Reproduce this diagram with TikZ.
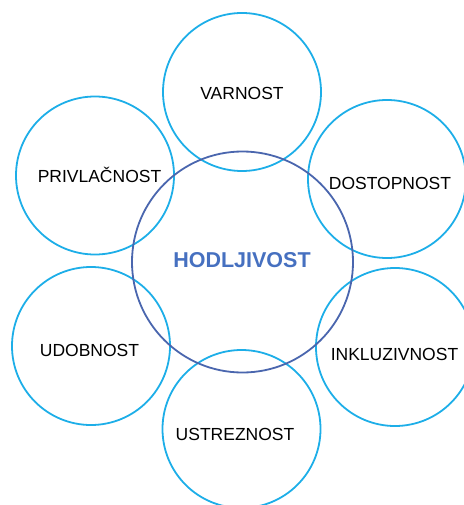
\documentclass[tikz,border=0pt]{standalone}
\usepackage{fontspec}
\setmainfont{Liberation Sans}
\definecolor{ringcyan}{HTML}{1DAEE8}
\definecolor{coreblue}{HTML}{4A66AE}
\definecolor{coretext}{HTML}{4670C0}
\begin{document}
\begin{tikzpicture}[x=1pt,y=-1pt,
  petal/.style={circle,draw=ringcyan,line width=1.8pt,minimum size=158pt,inner sep=0pt},
  core/.style={circle,draw=coreblue,line width=1.8pt,minimum size=221pt,inner sep=0pt},
  lbl/.style={font=\fontsize{17.5}{20}\selectfont,text=black},
  corelbl/.style={font=\fontsize{21.5}{24}\selectfont\bfseries,text=coretext}]
  \useasboundingbox (0,0) rectangle (463,505);
  % outer quality circles
  \node[petal] (var) at (242,92) {};
  \node[petal] (dos) at (387,179) {};
  \node[petal] (ink) at (395,347) {};
  \node[petal] (ust) at (241.5,429) {};
  \node[petal] (udo) at (91,346) {};
  \node[petal] (pri) at (95,175.5) {};
  % central circle
  \node[core] (hod) at (242.5,262) {};
  % labels
  \node[lbl] (tvar) at (242,93) {VARNOST};
  \node[lbl] (tdos) at (390,183) {DOSTOPNOST};
  \node[lbl] (tink) at (394.5,354) {INKLUZIVNOST};
  \node[lbl] (tust) at (235,434) {USTREZNOST};
  \node[lbl] (tudo) at (89.5,350) {UDOBNOST};
  \node[lbl] (tpri) at (99.5,175) {PRIVLAČNOST};
  \node[corelbl] (thod) at (242,260) {HODLJIVOST};
\end{tikzpicture}
\end{document}
